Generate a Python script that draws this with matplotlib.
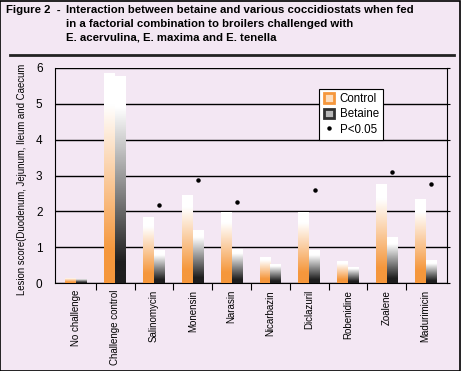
# -*- coding: utf-8 -*-
"""
Figure 2 - betaine x coccidiostats, lesion scores
"""

import matplotlib
matplotlib.use('Agg')
import matplotlib.pyplot as plt
import numpy as np
from matplotlib.colors import LinearSegmentedColormap
from matplotlib.patches import Patch, Rectangle
from matplotlib.lines import Line2D

matplotlib.rcParams['font.family'] = ['Liberation Sans', 'DejaVu Sans']

# data
categories = ['No challenge', 'Challenge control', 'Salinomycin', 'Monensin', 'Narasin',
              'Nicarbazin', 'Diclazuril', 'Robenidine', 'Zoalene', 'Madurimicin']
control = [0.14, 5.86, 1.83, 2.46, 1.98, 0.73, 1.97, 0.62, 2.76, 2.34]
betaine = [0.12, 5.77, 0.92, 1.48, 0.96, 0.54, 0.92, 0.45, 1.27, 0.64]
signif = [None, None, 2.17, 2.87, 2.25, None, 2.60, None, 3.11, 2.76]

bg = '#F3E7F3'
orange = '#F5973C'
dark = '#1E1E1E'

# 颜色渐变：底部颜色 -> 顶部白色
cmap_ctrl = LinearSegmentedColormap.from_list('ctrl', [(0, orange), (0.15, orange), (0.85, 'white'), (1, 'white')])
cmap_bet = LinearSegmentedColormap.from_list('bet', [(0, dark), (0.1, dark), (0.85, 'white'), (1, 'white')])
grad = np.linspace(0, 1, 256).reshape(-1, 1)

fig = plt.figure(figsize=(4.61, 3.71), dpi=100, facecolor=bg)
ax = fig.add_axes([55 / 461, 1 - 283 / 371, 392 / 461, 215 / 371])
ax.set_facecolor(bg)

x = np.arange(len(categories))
w = 0.28
bars_c = ax.bar(x - w / 2, control, w, color='none', edgecolor='none', zorder=3)
bars_b = ax.bar(x + w / 2, betaine, w, color='none', edgecolor='none', zorder=3)

for bars, cm in [(bars_c, cmap_ctrl), (bars_b, cmap_bet)]:
    for b in bars:
        bx, by = b.get_x(), b.get_y()
        bw, bh = b.get_width(), b.get_height()
        im = ax.imshow(grad, cmap=cm, origin='lower', aspect='auto',
                       extent=[bx, bx + bw, by, by + bh], zorder=3)
        im.set_clip_path(b)

# P<0.05 标记
for i, s in enumerate(signif):
    if s is not None:
        ax.plot(x[i] + w / 2, s, 'o', color='black', markersize=2.2, zorder=4)

ax.set_xlim(-0.55, 9.55)
ax.set_ylim(0, 6)

ax.set_yticks(range(7))
ax.yaxis.grid(True, color='black', linewidth=1)
ax.set_axisbelow(True)
ax.tick_params(axis='y', length=0, pad=9, labelsize=8.5)
ax.spines['top'].set_visible(False)
for s in ['left', 'right', 'bottom']:
    ax.spines[s].set_linewidth(0.8)

# 右侧刻度
ax2 = ax.twinx()
ax2.set_ylim(0, 6)
ax2.set_yticks(range(7))
ax2.set_yticklabels([])
ax2.tick_params(axis='y', length=2, width=0.8)
for s in ax2.spines.values():
    s.set_visible(False)

ax.set_xticks(x)
ax.set_xticklabels(categories, rotation=90, fontsize=7)
ax.tick_params(axis='x', which='major', length=0, pad=5)
ax.set_xticks(x[:-1] + 0.5, minor=True)
ax.tick_params(axis='x', which='minor', length=5, width=0.8)

ax.set_ylabel('Lesion score(Duodenum, Jejunum, Ileum and Caecum', fontsize=6.9)
ax.yaxis.set_label_coords(-0.071, 0.48)

# 图例
handles = [Patch(facecolor='#FCDDBE', edgecolor=orange, linewidth=2),
           Patch(facecolor='#B8B8B8', edgecolor='#303030', linewidth=2),
           Line2D([], [], marker='o', color='black', markersize=2.2, linestyle='none')]
leg = ax.legend(handles, ['Control', 'Betaine', 'P<0.05'],
                loc='upper left', bbox_to_anchor=(0.66, 0.93), fontsize=8.3,
                frameon=True, fancybox=False, framealpha=1, edgecolor='black',
                handlelength=0.9, handleheight=0.9, handletextpad=0.5,
                borderpad=0.35, labelspacing=0.3)
leg.get_frame().set_linewidth(0.8)

# 标题
fig.text(6 / 461, 1 - 10 / 371, 'Figure 2  -', fontsize=8.2, fontweight='bold', va='center')
title_lines = ['Interaction between betaine and various coccidiostats when fed',
               'in a factorial combination to broilers challenged with',
               'E. acervulina, E. maxima and E. tenella']
for k, t in enumerate(title_lines):
    fig.text(66 / 461, 1 - (10 + 14 * k) / 371, t, fontsize=8.2, fontweight='bold', va='center')

fig.add_artist(Line2D([10 / 461, 454 / 461], [1 - 55 / 371, 1 - 55 / 371],
                      transform=fig.transFigure, color='#222222', linewidth=2))
fig.add_artist(Rectangle((0.001, 0.001), 0.997, 0.997, transform=fig.transFigure,
                         fill=False, edgecolor='black', linewidth=1.2))

plt.savefig('out.png', dpi=100, facecolor=bg)
plt.close()
